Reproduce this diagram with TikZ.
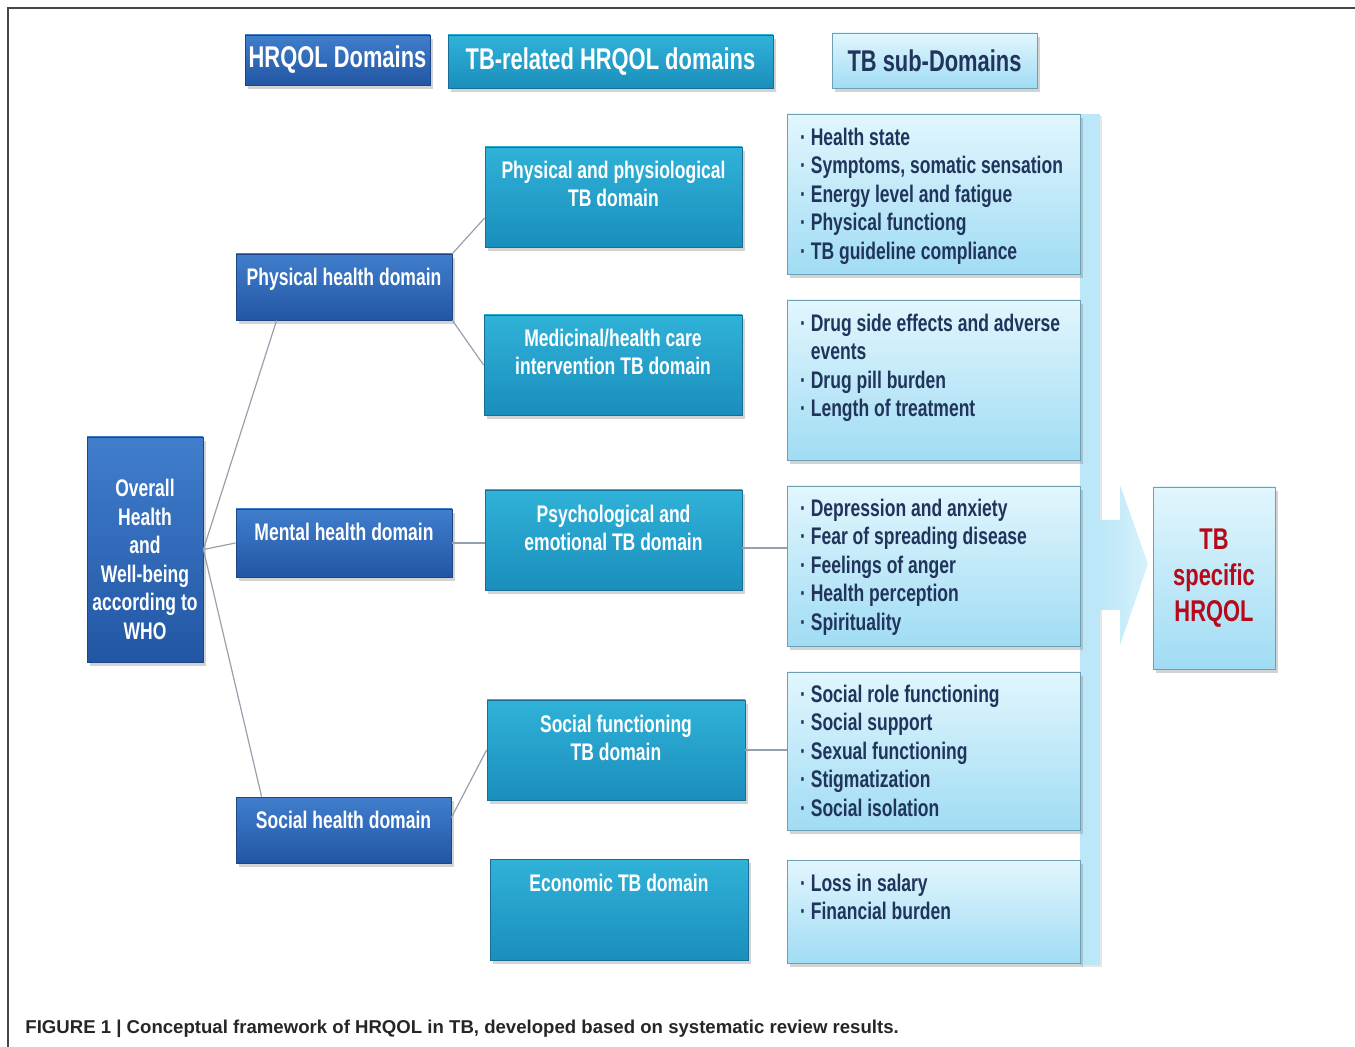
\documentclass[tikz,border=0pt]{standalone}
\usepackage{fontspec}
\setmainfont{Liberation Sans}
\newfontfamily\narrowfont{Liberation Sans}[FakeStretch=0.73]
\usetikzlibrary{positioning,shadows}
\definecolor{whotop}{RGB}{64,126,204}
\definecolor{whobot}{RGB}{34,86,164}
\definecolor{whoedge}{RGB}{30,70,135}
\definecolor{tealtop}{RGB}{48,178,216}
\definecolor{tealbot}{RGB}{26,142,188}
\definecolor{tealedge}{RGB}{25,110,150}
\definecolor{skytop}{RGB}{226,246,253}
\definecolor{skybot}{RGB}{160,220,244}
\definecolor{skyedge}{RGB}{110,160,180}
\definecolor{barblue}{RGB}{188,231,248}
\definecolor{navytext}{RGB}{32,52,92}
\definecolor{hrqolred}{RGB}{180,10,25}
\definecolor{linkgray}{RGB}{150,160,172}
\definecolor{framegray}{RGB}{70,70,70}
\newcommand{\bul}{·\hspace{2.5pt}}

\begin{document}
\begin{tikzpicture}[x=0.5pt, y=-0.5pt,
    boxbase/.style={draw, line width=0.4pt, inner sep=0pt,
        drop shadow={opacity=0.35, shadow xshift=1.5pt, shadow yshift=-2pt}},
    whobox/.style={boxbase, draw=whoedge, top color=whotop, bottom color=whobot},
    tealbox/.style={boxbase, draw=tealedge, top color=tealtop, bottom color=tealbot},
    skybox/.style={boxbase, draw=skyedge, top color=skytop, bottom color=skybot},
    wtxt/.style={text=white, inner sep=0pt, align=center,
        font=\narrowfont\bfseries\fontsize{12}{14.3}\selectfont},
    ltxt/.style={text=navytext, inner sep=0pt, align=left,
        font=\narrowfont\bfseries\fontsize{12}{14.25}\selectfont},
    headtxt/.style={font=\narrowfont\bfseries\fontsize{15}{17}\selectfont},
    link/.style={draw=linkgray, line width=0.6pt}]
    \useasboundingbox (0,0) rectangle (1355,1047);

    % Rahmen
    \draw[framegray, line width=0.8pt] (8,1047) -- (8,8) -- (1355,8);

    % Column headers
    \node[whobox, minimum width=92.5pt, minimum height=25pt, text=white, headtxt] (hdrwho) at (337.5,60) {HRQOL Domains};
    \node[tealbox, minimum width=162.5pt, minimum height=26.5pt, text=white, headtxt] (hdrtb) at (610.5,61.5) {TB-related HRQOL domains};
    \node[skybox, minimum width=102.5pt, minimum height=27.5pt, text=navytext, headtxt] (hdrsub) at (934.5,60.5) {TB sub-Domains};

    % Overall box
    \node[whobox, minimum width=58pt, minimum height=112.5pt] (overall) at (145,549.5) {};
    \node[wtxt] (overallT) at ([yshift=-5pt]overall.center) {Overall\\Health\\and\\Well-being\\according to\\WHO};

    % HRQOL domains
    \node[whobox, minimum width=108pt, minimum height=33pt] (phys) at (344,287) {};
    \node[wtxt, below=7pt of phys.north] (physT) {Physical health domain};
    \node[whobox, minimum width=108pt, minimum height=34pt] (mental) at (344,543) {};
    \node[wtxt, below=7pt of mental.north] (mentalT) {Mental health domain};
    \node[whobox, minimum width=107.5pt, minimum height=33pt] (social) at (343.5,830) {};
    \node[wtxt, below=7pt of social.north] (socialT) {Social health domain};

    % TB-related domains
    \node[tealbox, minimum width=128.5pt, minimum height=50pt] (physio) at (613.5,197) {};
    \node[wtxt, below=7pt of physio.north] (physioT) {Physical and physiological\\TB domain};
    \node[tealbox, minimum width=129pt, minimum height=50pt] (medic) at (613,365) {};
    \node[wtxt, below=7pt of medic.north] (medicT) {Medicinal/health care\\intervention TB domain};
    \node[tealbox, minimum width=128.5pt, minimum height=50pt] (psych) at (613.5,540) {};
    \node[wtxt, below=7.5pt of psych.north] (psychT) {Psychological and\\emotional TB domain};
    \node[tealbox, minimum width=129pt, minimum height=50pt] (socfun) at (616,750) {};
    \node[wtxt, below=7.5pt of socfun.north] (socfunT) {Social functioning\\TB domain};
    \node[tealbox, minimum width=129pt, minimum height=50.5pt] (econ) at (619,909.5) {};
    \node[wtxt, below=7.5pt of econ.north] (econT) {Economic TB domain};

    % Sammelbalken
    \node[fill=barblue, inner sep=0pt, minimum width=10pt, minimum height=425.5pt,
        drop shadow={opacity=0.2, shadow xshift=1pt, shadow yshift=-1pt}] (bar) at (1090,539.5) {};

    % Sub-domains
    \node[skybox, minimum width=146.5pt, minimum height=80pt] (sub1) at (933.5,194) {};
    \node[ltxt, below right=7pt and 6.5pt of sub1.north west] (sub1T) {\bul Health state\\\bul Symptoms, somatic sensation\\\bul Energy level and fatigue\\\bul Physical functiong\\\bul TB guideline compliance};
    \node[skybox, minimum width=146.5pt, minimum height=80pt] (sub2) at (933.5,380) {};
    \node[ltxt, below right=7pt and 6.5pt of sub2.north west] (sub2T) {\bul Drug side effects and adverse\\\hphantom{\bul}events\\\bul Drug pill burden\\\bul Length of treatment};
    \node[skybox, minimum width=146.5pt, minimum height=80pt] (sub3) at (933.5,566) {};
    \node[ltxt, below right=6.5pt and 6.5pt of sub3.north west] (sub3T) {\bul Depression and anxiety\\\bul Fear of spreading disease\\\bul Feelings of anger\\\bul Health perception\\\bul Spirituality};
    \node[skybox, minimum width=146.5pt, minimum height=79pt] (sub4) at (933.5,751) {};
    \node[ltxt, below right=6.5pt and 6.5pt of sub4.north west] (sub4T) {\bul Social role functioning\\\bul Social support\\\bul Sexual functioning\\\bul Stigmatization\\\bul Social isolation};
    \node[skybox, minimum width=146.5pt, minimum height=51.5pt] (sub5) at (933.5,911.5) {};
    \node[ltxt, below right=7pt and 6.5pt of sub5.north west] (sub5T) {\bul Loss in salary\\\bul Financial burden};

    % Pfeil und Ergebnis
    \shade[left color=barblue, right color=skytop!70!barblue]
        (1100,520) -- (1120,520) -- (1120,485) -- (1148,564) -- (1120,645) -- (1120,610) -- (1100,610) -- cycle;
    \node[skybox, minimum width=61pt, minimum height=91pt, text=hrqolred, align=center,
        font=\narrowfont\bfseries\fontsize{15}{18}\selectfont] (tbq) at (1214,578) {TB\\specific\\HRQOL};

    % Verbindungen
    \draw[link] (overall.east) -- ([xshift=20.5pt]phys.south west);
    \draw[link] (overall.east) -- (mental.west);
    \draw[link] (overall.east) -- ([xshift=13pt]social.north west);
    \draw[link] (phys.north east) -- ([yshift=-10.5pt]physio.west);
    \draw[link] (phys.south east) -- (medic.west);
    \draw[link] (mental.east) -- (mental.east -| psych.west);
    \draw[link] ([yshift=-4pt]psych.east) -- ([yshift=-4pt]psych.east -| sub3.west);
    \draw[link] ([yshift=-10.5pt]social.north east) -- (socfun.west);
    \draw[link] (socfun.east) -- (socfun.east -| sub4.west);

    % Caption
    \node[anchor=west, inner sep=0pt, text=black!85, font=\bfseries\fontsize{9.3}{11}\selectfont] (caption) at (25,1029)
        {FIGURE 1 | Conceptual framework of HRQOL in TB, developed based on systematic review results.};
\end{tikzpicture}
\end{document}
